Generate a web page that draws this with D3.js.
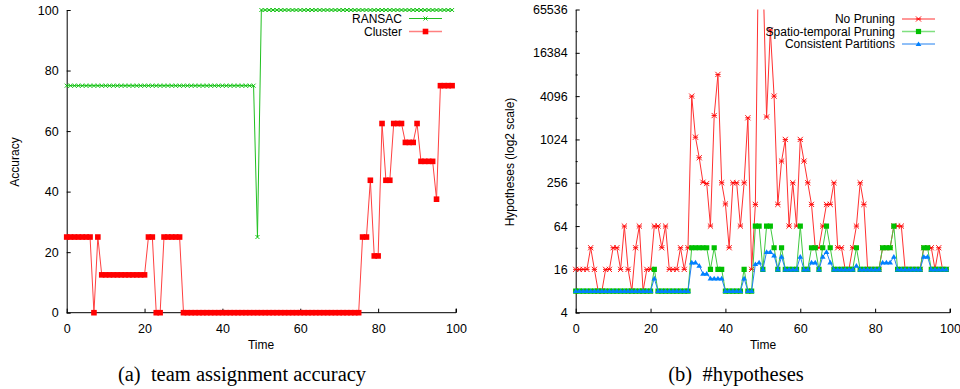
<!DOCTYPE html>
<html lang="en">
<head>
<meta charset="utf-8">
<title>Team assignment accuracy and number of hypotheses</title>
<script src="https://cdn.jsdelivr.net/npm/d3@7"></script>
<style>
  body { margin: 0; background: #fff; }
  text { font-family: "Liberation Sans", Arial, sans-serif; font-size: 12px; fill: #000; }
  .caption { font-family: "Liberation Serif", "Times New Roman", serif; font-size: 20.5px; white-space: pre; }
  .axis path, .axis line { stroke: #000; }
  .axis text { font-size: 12.5px; }
</style>
</head>
<body>
<script>
// time steps 0..99
var timeSteps = [
   0,  1,  2,  3,  4,  5,  6,  7,  8,  9, 10, 11, 12, 13, 14, 15, 16, 17, 18, 19,
  20, 21, 22, 23, 24, 25, 26, 27, 28, 29, 30, 31, 32, 33, 34, 35, 36, 37, 38, 39,
  40, 41, 42, 43, 44, 45, 46, 47, 48, 49, 50, 51, 52, 53, 54, 55, 56, 57, 58, 59,
  60, 61, 62, 63, 64, 65, 66, 67, 68, 69, 70, 71, 72, 73, 74, 75, 76, 77, 78, 79,
  80, 81, 82, 83, 84, 85, 86, 87, 88, 89, 90, 91, 92, 93, 94, 95, 96, 97, 98, 99];

// (a) team assignment accuracy
var ransac = [
  75, 75, 75, 75, 75, 75, 75, 75, 75, 75,
  75, 75, 75, 75, 75, 75, 75, 75, 75, 75,
  75, 75, 75, 75, 75, 75, 75, 75, 75, 75,
  75, 75, 75, 75, 75, 75, 75, 75, 75, 75,
  75, 75, 75, 75, 75, 75, 75, 75, 75, 25,
  100, 100, 100, 100, 100, 100, 100, 100, 100, 100,
  100, 100, 100, 100, 100, 100, 100, 100, 100, 100,
  100, 100, 100, 100, 100, 100, 100, 100, 100, 100,
  100, 100, 100, 100, 100, 100, 100, 100, 100, 100,
  100, 100, 100, 100, 100, 100, 100, 100, 100, 100];

var cluster = [
  25, 25, 25, 25, 25, 25, 25, 0, 25, 12.5,
  12.5, 12.5, 12.5, 12.5, 12.5, 12.5, 12.5, 12.5, 12.5, 12.5,
  12.5, 25, 25, 0, 0, 25, 25, 25, 25, 25,
  0, 0, 0, 0, 0, 0, 0, 0, 0, 0,
  0, 0, 0, 0, 0, 0, 0, 0, 0, 0,
  0, 0, 0, 0, 0, 0, 0, 0, 0, 0,
  0, 0, 0, 0, 0, 0, 0, 0, 0, 0,
  0, 0, 0, 0, 0, 0, 25, 25, 43.75, 18.75,
  18.75, 62.5, 43.75, 43.75, 62.5, 62.5, 62.5, 56.25, 56.25, 56.25,
  62.5, 50, 50, 50, 50, 37.5, 75, 75, 75, 75];

// (b) #hypotheses
var noPruning = [
  16, 16, 16, 16, 32, 16, 8, 8, 16, 16,
  32, 32, 16, 64, 16, 8, 32, 64, 8, 16,
  16, 64, 64, 32, 64, 16, 16, 16, 32, 16,
  32, 4096, 1100, 570, 260, 250, 64, 2200, 8200, 256,
  130, 32, 256, 256, 64, 256, 2048, 16, 128, 2097152,
  262144, 2100, 34000, 4096, 128, 512, 1024, 64, 256, 64,
  1024, 512, 256, 128, 32, 32, 64, 128, 128, 256,
  32, 32, 16, 16, 32, 64, 256, 128, 16, 16,
  16, 16, 32, 32, 32, 64, 64, 64, 16, 16,
  16, 16, 16, 32, 32, 32, 16, 32, 16, 16];

var spatioTemporal = [
  8, 8, 8, 8, 8, 8, 8, 8, 8, 8,
  8, 8, 8, 8, 8, 8, 8, 8, 8, 8,
  8, 16, 8, 8, 8, 8, 8, 8, 8, 8,
  8, 32, 32, 32, 32, 32, 16, 32, 16, 16,
  8, 8, 8, 8, 8, 16, 8, 8, 64, 64,
  16, 64, 64, 32, 16, 32, 16, 16, 16, 16,
  64, 16, 16, 32, 32, 16, 32, 64, 32, 16,
  16, 16, 16, 16, 16, 32, 16, 16, 16, 16,
  16, 16, 32, 32, 32, 64, 16, 16, 16, 16,
  16, 16, 16, 32, 32, 16, 16, 16, 16, 16];

var consistent = [
  8, 8, 8, 8, 8, 8, 8, 8, 8, 8,
  8, 8, 8, 8, 8, 8, 8, 8, 8, 8,
  8, 12, 8, 8, 8, 8, 8, 8, 8, 8,
  8, 20, 20, 18, 14, 14, 12, 12, 12, 12,
  8, 8, 8, 8, 8, 12, 8, 8, 19, 20,
  16, 28, 28, 25, 16, 24, 16, 16, 16, 16,
  24, 16, 16, 20, 20, 16, 24, 28, 20, 16,
  16, 16, 16, 16, 16, 18, 16, 16, 16, 16,
  16, 16, 20, 20, 20, 24, 16, 16, 16, 16,
  16, 16, 16, 24, 24, 16, 16, 16, 16, 16];

var xTicks = [0, 20, 40, 60, 80, 100];
var accTicks = [0, 20, 40, 60, 80, 100];
var hypTicks = [4, 16, 64, 256, 1024, 4096, 16384, 65536];
var hypMinorTicks = [8, 32, 128, 512, 2048, 8192, 32768];

var w = 960, h = 389;

var svg = d3.select("body").append("svg")
  .attr("width", w)
  .attr("height", h);

// marker shapes
function crossPath(s) {
  return "M" + (-s) + "," + (-s) + "L" + s + "," + s + "M" + (-s) + "," + s + "L" + s + "," + (-s);
}
function starPath(s) {
  return crossPath(s) + "M" + (-s) + ",0L" + s + ",0";
}
function squarePath(s) {
  return "M" + (-s) + "," + (-s) + "h" + (2 * s) + "v" + (2 * s) + "h" + (-2 * s) + "Z";
}
function trianglePath(s) {
  return "M0," + (-s) + "L" + (s * 1.1) + "," + (s * 0.8) + "L" + (-s * 1.1) + "," + (s * 0.8) + "Z";
}

function drawSeries(g, values, x, y, opt) {
  var line = d3.line()
    .x(function(d, i) { return x(timeSteps[i]); })
    .y(function(d) { return y(d); });
  g.append("path")
    .datum(values)
    .attr("fill", "none")
    .attr("stroke", opt.lineColor)
    .attr("stroke-width", opt.lineWidth || 1)
    .attr("d", line);
  g.selectAll(null)
    .data(values)
    .enter()
    .append("path")
    .attr("transform", function(d, i) { return "translate(" + x(timeSteps[i]) + "," + y(d) + ")"; })
    .attr("d", opt.marker)
    .attr("fill", opt.filled ? opt.color : "none")
    .attr("stroke", opt.color)
    .attr("stroke-width", opt.filled ? 0 : 0.9);
}

function legendRow(g, label, yPos, textEnd, opt) {
  g.append("text")
    .attr("x", textEnd)
    .attr("y", yPos + 4)
    .attr("text-anchor", "end")
    .text(label);
  g.append("line")
    .attr("x1", textEnd + 7)
    .attr("x2", textEnd + 40)
    .attr("y1", yPos)
    .attr("y2", yPos)
    .attr("stroke", opt.lineColor)
    .attr("stroke-width", opt.lineWidth || 1);
  g.append("path")
    .attr("transform", "translate(" + (textEnd + 23.5) + "," + yPos + ")")
    .attr("d", opt.marker)
    .attr("fill", opt.filled ? opt.color : "none")
    .attr("stroke", opt.color)
    .attr("stroke-width", opt.filled ? 0 : 0.9);
}

//------------- (a) accuracy -------------
var xA = d3.scaleLinear().domain([0, 100]).range([66.7, 456]);
var yA = d3.scaleLinear().domain([0, 100]).range([312.7, 10]);

var gA = svg.append("g");

gA.append("g")
  .attr("class", "axis")
  .attr("transform", "translate(0," + yA(0) + ")")
  .call(d3.axisBottom(xA).tickValues(xTicks).tickSizeInner(-4).tickSizeOuter(0).tickPadding(11))
  .call(function(g) { g.select(".domain").attr("d", "M" + xA(0) + ",0H" + xA(100) + "V-4"); });

gA.append("g")
  .attr("class", "axis")
  .attr("transform", "translate(" + xA(0) + ",0)")
  .call(d3.axisLeft(yA).tickValues(accTicks).tickSizeInner(-4).tickSizeOuter(0).tickPadding(8));

gA.selectAll(".axis text").attr("font-size", null);

var ransacStyle = { color: "#00c000", lineColor: "#20c020", marker: crossPath(2), filled: false };
var clusterStyle = { color: "#ff0000", lineColor: "#ff4040", marker: squarePath(2.8), filled: true };

drawSeries(gA, ransac, xA, yA, ransacStyle);
drawSeries(gA, cluster, xA, yA, clusterStyle);

legendRow(gA, "RANSAC", 18.5, 402, ransacStyle);
legendRow(gA, "Cluster", 31.5, 402, { color: "#ff0000", lineColor: "#ff8080", lineWidth: 1.5, marker: squarePath(2.8), filled: true });

gA.append("text")
  .attr("transform", "translate(19,162) rotate(-90)")
  .attr("text-anchor", "middle")
  .text("Accuracy");

gA.append("text")
  .attr("x", 261)
  .attr("y", 349)
  .attr("text-anchor", "middle")
  .text("Time");

gA.append("text")
  .attr("class", "caption")
  .attr("x", 242)
  .attr("y", 381)
  .attr("text-anchor", "middle")
  .text("(a)  team assignment accuracy");

//------------- (b) hypotheses -------------
var xB = d3.scaleLinear().domain([0, 100]).range([575.7, 950]);
var yB = d3.scaleLog().base(2).domain([4, 65536]).range([312.7, 9.5]);

var gB = svg.append("g");

svg.append("clipPath")
  .attr("id", "clipB")
  .append("rect")
  .attr("x", 560)
  .attr("y", 9.5)
  .attr("width", 400)
  .attr("height", 320);

gB.append("g")
  .attr("class", "axis")
  .attr("transform", "translate(0," + yB(4) + ")")
  .call(d3.axisBottom(xB).tickValues(xTicks).tickSizeInner(-4).tickSizeOuter(0).tickPadding(11))
  .call(function(g) { g.select(".domain").attr("d", "M" + xB(0) + ",0H" + xB(100) + "V-4"); });

gB.append("g")
  .attr("class", "axis")
  .attr("transform", "translate(" + xB(0) + ",0)")
  .call(d3.axisLeft(yB).tickValues(hypTicks).tickFormat(d3.format("d")).tickSizeInner(-4).tickSizeOuter(0).tickPadding(8));

gB.append("g")
  .attr("class", "axis")
  .attr("transform", "translate(" + xB(0) + ",0)")
  .call(d3.axisLeft(yB).tickValues(hypMinorTicks).tickFormat("").tickSizeInner(-2).tickSizeOuter(0))
  .call(function(g) { g.select(".domain").remove(); });

gB.selectAll(".axis text").attr("font-size", null);

var plotB = gB.append("g").attr("clip-path", "url(#clipB)");

var noPruningStyle = { color: "#ff0000", lineColor: "#ff3030", marker: starPath(2.6), filled: false };
var spatioStyle = { color: "#00c000", lineColor: "#40c840", marker: squarePath(2.6), filled: true };
var consistentStyle = { color: "#0080ff", lineColor: "#2080f0", marker: trianglePath(2.6), filled: true };

drawSeries(plotB, noPruning, xB, yB, noPruningStyle);
drawSeries(plotB, spatioTemporal, xB, yB, spatioStyle);
drawSeries(plotB, consistent, xB, yB, consistentStyle);

var legB = gB.append("g");
legendRow(legB, "No Pruning", 19, 895, noPruningStyle);
legendRow(legB, "Spatio-temporal Pruning", 31.5, 895, { color: "#00c000", lineColor: "#80e080", lineWidth: 1.5, marker: squarePath(2.6), filled: true });
legendRow(legB, "Consistent Partitions", 44, 895, consistentStyle);

gB.append("text")
  .attr("transform", "translate(514,162) rotate(-90)")
  .attr("text-anchor", "middle")
  .text("Hypotheses (log2 scale)");

gB.append("text")
  .attr("x", 763)
  .attr("y", 349)
  .attr("text-anchor", "middle")
  .text("Time");

gB.append("text")
  .attr("class", "caption")
  .attr("x", 736)
  .attr("y", 381)
  .attr("text-anchor", "middle")
  .text("(b)  #hypotheses");
</script>
</body>
</html>
